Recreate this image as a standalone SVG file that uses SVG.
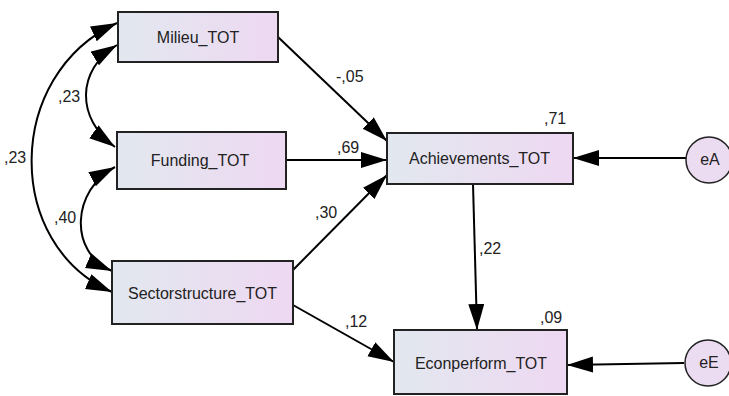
<svg xmlns="http://www.w3.org/2000/svg" width="729" height="396" viewBox="0 0 729 396">
<defs>
<linearGradient id="g" x1="0" y1="0" x2="1" y2="0">
<stop offset="0" stop-color="#e2e8ef"/>
<stop offset="1" stop-color="#eed8f2"/>
</linearGradient>
<marker id="ah" markerUnits="userSpaceOnUse" markerWidth="27" markerHeight="17" refX="26" refY="8" orient="auto-start-reverse" viewBox="0 0 27 17">
<path d="M0,0 L26,8 L0,16 z" fill="#000"/>
</marker>
<style>
.box{fill:url(#g);stroke:#222;stroke-width:2}
.circ{fill:#ecdcf2;stroke:#222;stroke-width:1.5}
.t{font-family:"Liberation Sans",Arial,sans-serif;font-size:16px;fill:#222;text-anchor:middle}
.lb{font-family:"Liberation Sans",Arial,sans-serif;font-size:16px;fill:#222}
.c{fill:none;stroke:#000;stroke-width:2;marker-end:url(#ah)}
.d{fill:none;stroke:#000;stroke-width:2;marker-end:url(#ah);marker-start:url(#ah)}
</style>
</defs>
<g id="connectors">
<path class="c" d="M278,37 L387,141"/>
<path class="c" d="M286,160 L387,160"/>
<path class="c" d="M293,270 L387,175"/>
<path class="c" d="M293,305 L394,362"/>
<path class="c" d="M473,184 L477,330"/>
<path class="c" d="M686,158 L573,158"/>
<path class="c" d="M684,363 L567,365"/>
<path class="d" d="M117,45 C76,70 76,119 115,147"/>
<path class="d" d="M117,23 C4,75 4,245 112,292"/>
<path class="d" d="M115,167 C72,190 68,252 112,271"/>
</g>
<g id="labels">
<text class="lb" x="58" y="102">,23</text>
<text class="lb" x="4" y="163">,23</text>
<text class="lb" x="54" y="223">,40</text>
<text class="lb" x="336" y="82">-,05</text>
<text class="lb" x="337" y="153">,69</text>
<text class="lb" x="315" y="218">,30</text>
<text class="lb" x="544" y="124">,71</text>
<text class="lb" x="479" y="254">,22</text>
<text class="lb" x="345" y="327">,12</text>
<text class="lb" x="540" y="323">,09</text>
</g>
<g id="Milieu_TOT">
<rect class="box" x="118" y="12" width="160" height="50"/>
<text class="t" x="198" y="42.5">Milieu_TOT</text>
</g>
<g id="Funding_TOT">
<rect class="box" x="117" y="132" width="169" height="57"/>
<text class="t" x="200" y="166">Funding_TOT</text>
</g>
<g id="Sectorstructure_TOT">
<rect class="box" x="112" y="261" width="181" height="63"/>
<text class="t" x="202.5" y="299">Sectorstructure_TOT</text>
</g>
<g id="Achievements_TOT">
<rect class="box" x="387" y="133" width="186" height="51"/>
<text class="t" x="479.5" y="164">Achievements_TOT</text>
</g>
<g id="Econperform_TOT">
<rect class="box" x="394" y="330" width="173" height="64"/>
<text class="t" x="481" y="369">Econperform_TOT</text>
</g>
<g id="eA">
<circle class="circ" cx="709" cy="160" r="23"/>
<text class="t" x="710" y="165">eA</text>
</g>
<g id="eE">
<circle class="circ" cx="708" cy="363" r="23"/>
<text class="t" x="709" y="368">eE</text>
</g>
</svg>
